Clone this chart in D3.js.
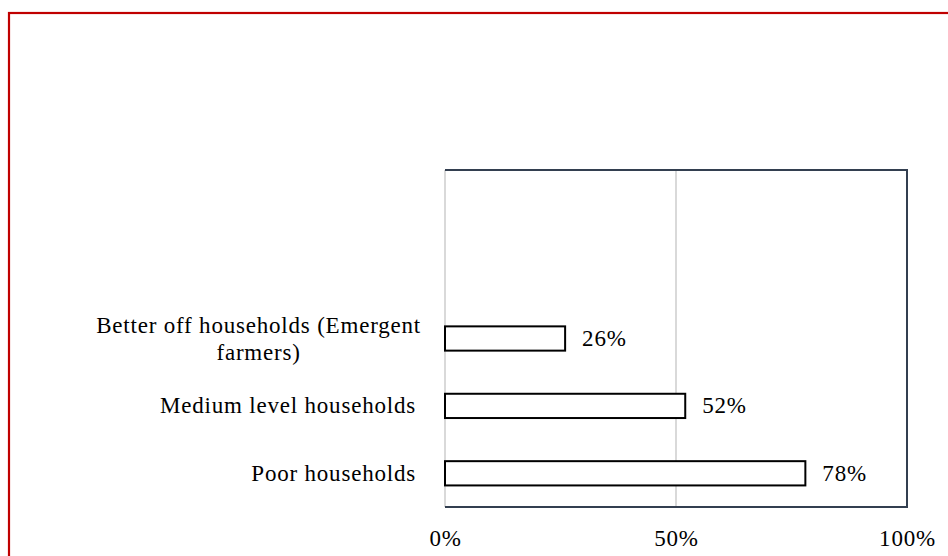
<!DOCTYPE html>
<html><head><meta charset="utf-8">
<script src="https://cdn.jsdelivr.net/npm/d3@7"></script>
<style>body{margin:0;background:#fff}svg{display:block}</style>
</head><body>
<svg id="c" width="948" height="556"></svg>
<script>
const categories = ["", "", "Better off households (Emergent farmers)", "Medium level households", "Poor households"];
const values = [null, null, 0.26, 0.52, 0.78];
const tickValues = [0, 0.5, 1];
const tickLabels = ["0%", "50%", "100%"];

const svg = d3.select("#c");
const font = "'Liberation Serif', serif";
const fs = 23;
const ls = "0.8px";

svg.append("rect").attr("x", 9).attr("y", 13).attr("width", 960).attr("height", 560)
  .attr("fill", "none").attr("stroke", "#c00000").attr("stroke-width", 2.2);

const L = 445, R = 907, T = 170, B = 507;
const x = d3.scaleLinear().domain([0, 1]).range([L, R]);
const y = d3.scaleBand().domain(categories.map((c, i) => i)).range([T, B]).paddingInner(0.64).paddingOuter(0.32);

// gridlines
svg.append("g").selectAll("line").data(tickValues).join("line")
  .attr("x1", d => x(d)).attr("x2", d => x(d)).attr("y1", T).attr("y2", B)
  .attr("stroke", "#d9d9d9").attr("stroke-width", 2);

// frame: top, right, bottom
svg.append("path").attr("d", `M${L},${T}H${R}V${B}H${L}`).attr("fill", "none")
  .attr("stroke", "#333f50").attr("stroke-width", 2);

// bars
const data = categories.map((c, i) => ({c, i, v: values[i]})).filter(d => d.v != null);
svg.append("g").selectAll("rect").data(data).join("rect")
  .attr("x", x(0)).attr("y", d => y(d.i)).attr("width", d => x(d.v) - x(0)).attr("height", y.bandwidth())
  .attr("fill", "#fff").attr("stroke", "#000").attr("stroke-width", 2);

// value labels
svg.append("g").selectAll("text").data(data).join("text")
  .attr("x", d => x(d.v) + 17).attr("y", d => y(d.i) + y.bandwidth() / 2)
  .attr("dy", "0.33em").attr("font-family", font).attr("font-size", fs).attr("letter-spacing", ls).attr("fill", "#000")
  .text(d => d3.format(".0%")(d.v));

// x axis tick labels
const xa = svg.append("g").attr("transform", `translate(0,${B})`)
  .call(d3.axisBottom(x).tickValues(tickValues).tickSize(0).tickPadding(0).tickFormat((d, i) => tickLabels[i]));
xa.select(".domain").remove();
xa.selectAll("text").attr("font-family", font).attr("font-size", fs).attr("letter-spacing", ls).attr("fill", "#000").attr("dy", 0).attr("y", 39);

// category labels (wrapped, centered block, right aligned to axis)
const wraps = {"Better off households (Emergent farmers)": ["Better off households (Emergent", "farmers)"]};
data.forEach(d => {
  const lines = wraps[d.c] || [d.c];
  const g = svg.append("g");
  const lh = 27;
  const cy = y(d.i) + y.bandwidth() / 2;
  const ts = lines.map((ln, k) => g.append("text").attr("font-family", font).attr("font-size", fs).attr("letter-spacing", ls).attr("fill", "#000")
    .attr("text-anchor", "middle").attr("y", cy + (k - (lines.length - 1) / 2) * lh).attr("dy", "0.33em").text(ln));
  const w = d3.max(ts, t => t.node().getComputedTextLength());
  const right = lines.length > 1 ? 421 : 416;
  ts.forEach(t => t.attr("x", right - w / 2));
});
</script>
</body></html>
